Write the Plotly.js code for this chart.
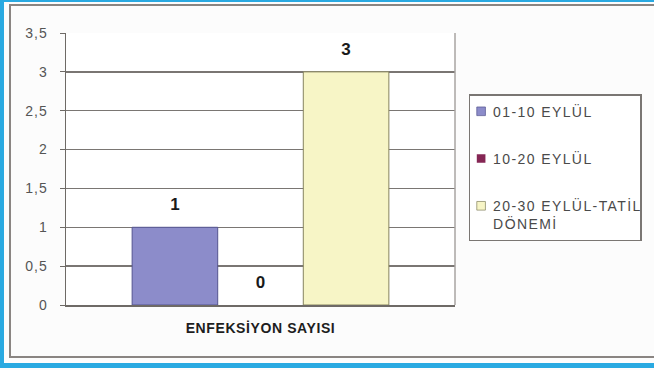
<!DOCTYPE html>
<html>
<head>
<meta charset="utf-8">
<script src="https://cdn.plot.ly/plotly-3.0.1.min.js"></script>
<style>
  html, body { margin: 0; padding: 0; background: #fff; }
  #wrap { position: relative; width: 654px; height: 370px; overflow: hidden; background: #fcfcfc; }
  #blueTop { position: absolute; left: 0; top: 0; width: 654px; height: 2px; background: #29a9e1; }
  #blueLeft { position: absolute; left: 0; top: 0; width: 4px; height: 368px; background: #29a9e1; }
  #blueBottom { position: absolute; left: 0; top: 363px; width: 654px; height: 5px; background: #29a9e1; }
  #inner { position: absolute; left: 9px; top: 4px; width: 660px; height: 354px; border: 2px solid #8a8582; box-sizing: border-box; }
  #chart { position: absolute; left: 0; top: 0; width: 654px; height: 370px; }
  /* legend: tighter symbol column, wider tracking */
  #chart .legend .legendtext { transform: translateX(-17px); letter-spacing: 1.4px; }
  #chart .legend .legendpoints path { transform: translateX(11px) scale(0.72); }
  /* two-line entry: symbol sits on the first line */
  #chart .legend .traces:has(.legendtext tspan.line) .legendpoints path { transform: translate(11px, -9px) scale(0.72); }
  #chart .ytick text { letter-spacing: 1px; }
  #chart .xtick text { letter-spacing: 0.6px; }
</style>
</head>
<body>
<div id="wrap">
  <div id="blueTop"></div>
  <div id="blueLeft"></div>
  <div id="blueBottom"></div>
  <div id="inner"></div>
  <div id="chart"></div>
</div>
<script>
// Infection counts per period
const categories = ['ENFEKSİYON SAYISI'];
const seriesNames = ['01-10 EYLÜL', '10-20 EYLÜL', '20-30 EYLÜL-TATİL<br>DÖNEMİ'];
const period1 = [1];
const period2 = [0];
const period3 = [3];
const yTickVals = [0, 0.5, 1, 1.5, 2, 2.5, 3, 3.5];

const fills = ['#8c8cca', '#852654', '#f7f5c6'];
const outlines = ['#555590', '#5a1a38', '#85835f'];
const outlineWidths = [1, 0, 1];
const values = [period1, period2, period3];

const barTraces = values.map((vals, i) => ({
  type: 'bar',
  name: seriesNames[i],
  legendgroup: 'g' + i,
  offsetgroup: 'g' + i,
  alignmentgroup: 'a',
  x: categories,
  y: vals,
  marker: { color: fills[i], line: { color: outlines[i], width: outlineWidths[i] } },
  hoverinfo: 'skip'
}));

// value labels, grouped the same way as the bars
const labelTraces = values.map((vals, i) => ({
  type: 'scatter',
  mode: 'markers+text',
  showlegend: false,
  offsetgroup: 'g' + i,
  alignmentgroup: 'a',
  x: categories,
  y: vals,
  text: vals.map(String),
  textposition: 'top center',
  cliponaxis: false,
  marker: { size: 19, opacity: 0 },
  textfont: { family: 'Liberation Sans, Arial, sans-serif', size: 17, color: '#1a1a1a', weight: 'bold' },
  hoverinfo: 'skip'
}));

const layout = {
  width: 654,
  height: 370,
  margin: { l: 66, r: 199, t: 33, b: 65, autoexpand: false },
  paper_bgcolor: 'rgba(0,0,0,0)',
  plot_bgcolor: '#ffffff',
  separators: ',.',
  barmode: 'group',
  bargap: 0.34,
  bargroupgap: 0,
  scattermode: 'group',
  scattergap: 0.34,
  showlegend: true,
  font: { family: 'Liberation Sans, Arial, sans-serif', color: '#444' },
  xaxis: {
    type: 'category',
    showline: true,
    linecolor: '#6e6a66',
    linewidth: 1.5,
    ticks: '',
    ticklabelstandoff: 10,
    tickfont: { size: 14, color: '#1e1e1e', weight: 'bold' },
    fixedrange: true
  },
  yaxis: {
    range: [0, 3.5],
    tickvals: yTickVals,
    showgrid: true,
    gridcolor: '#7a7673',
    gridwidth: 1.5,
    showline: true,
    linecolor: '#6e6a66',
    linewidth: 1.5,
    ticks: 'outside',
    ticklen: 5,
    tickcolor: '#6e6a66',
    ticklabelstandoff: 9,
    tickfont: { size: 14, color: '#555' },
    zeroline: false,
    fixedrange: true
  },
  shapes: [
    { type: 'line', xref: 'paper', yref: 'paper', x0: 1, x1: 1, y0: 0, y1: 1,
      line: { color: '#a8a5a2', width: 1.5 } }
  ],
  legend: {
    x: 1.035, y: 0.775, xanchor: 'left', yanchor: 'top',
    bgcolor: '#ffffff',
    bordercolor: '#7a7673',
    borderwidth: 1.5,
    tracegroupgap: 26,
    traceorder: 'grouped',
    font: { size: 14, color: '#4a4a4a' }
  }
};

Plotly.newPlot('chart', barTraces.concat(labelTraces), layout, { displayModeBar: false, staticPlot: true });
</script>
</body>
</html>
